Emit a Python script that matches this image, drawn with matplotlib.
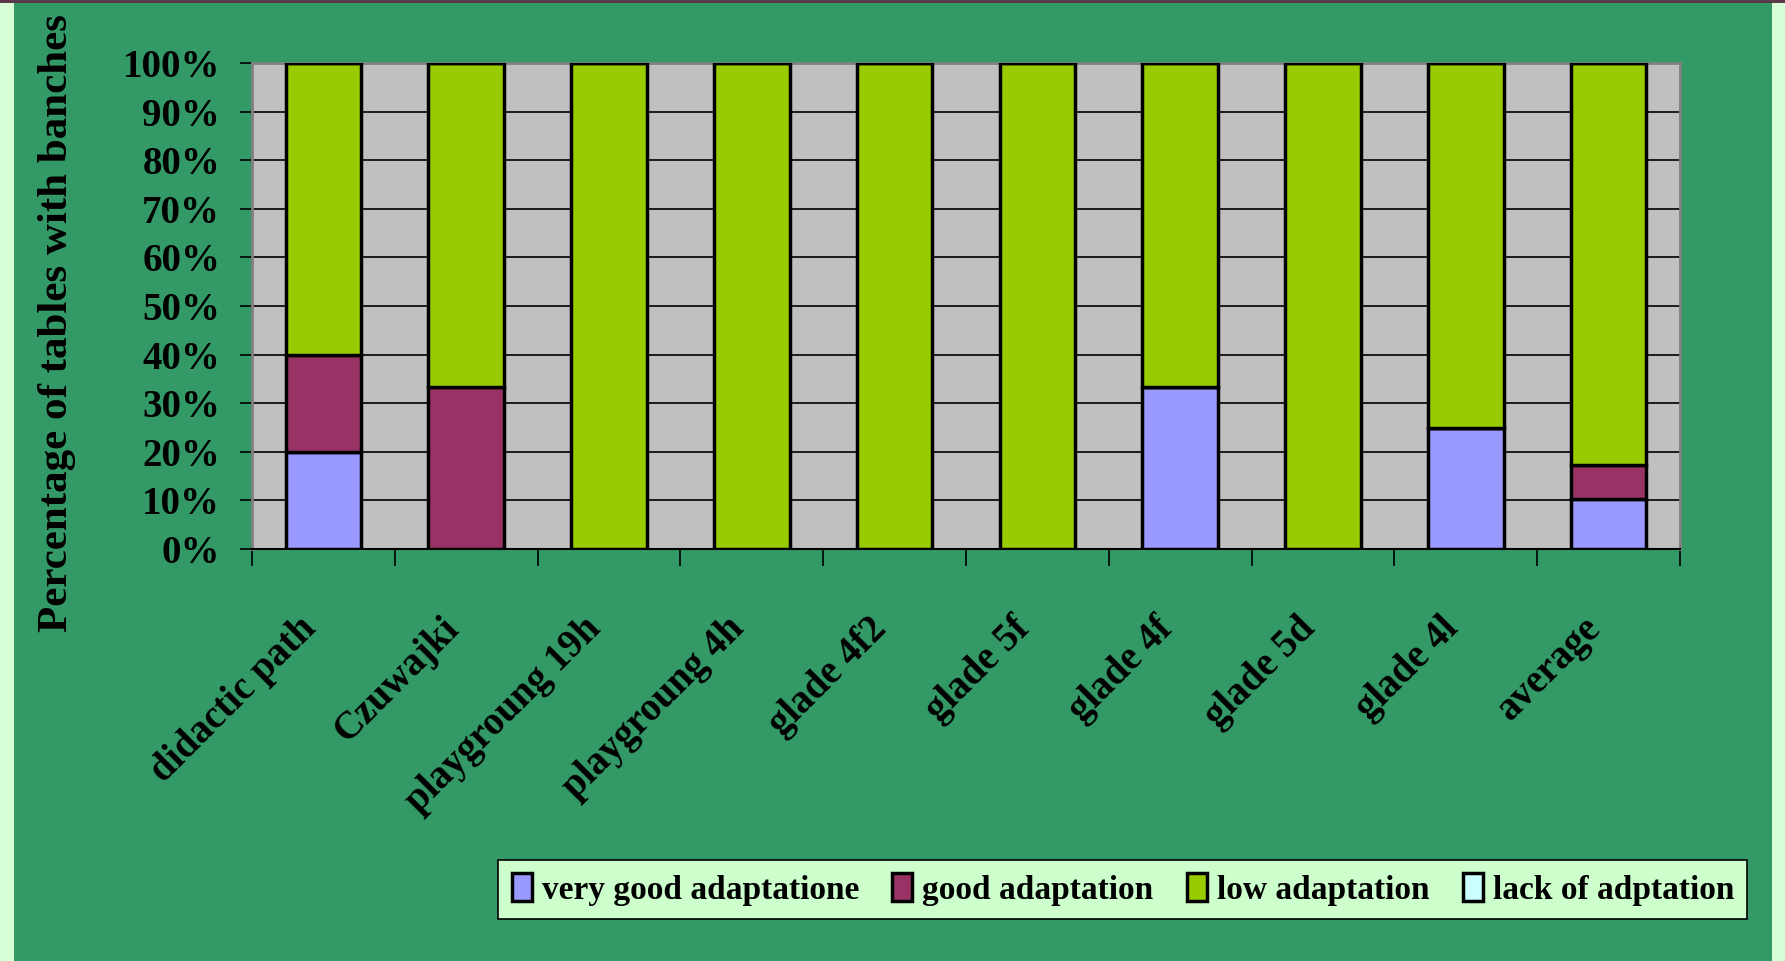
import matplotlib.pyplot as plt
from matplotlib.patches import Rectangle
import numpy as np

# dane (procenty)
kategorie = ['didactic path', 'Czuwajki', 'playgroung 19h', 'playgroung 4h',
             'glade 4f2', 'glade 5f', 'glade 4f', 'glade 5d', 'glade 4l', 'average']
very_good = [20, 0, 0, 0, 0, 0, 33.3, 0, 25, 10.3]
good = [20, 33.3, 0, 0, 0, 0, 0, 0, 0, 6.9]
low = [60, 66.7, 100, 100, 100, 100, 66.7, 100, 75, 82.8]
lack = [0, 0, 0, 0, 0, 0, 0, 0, 0, 0]

serie = ['very good adaptatione', 'good adaptation', 'low adaptation', 'lack of adptation']
kolory = ['#9999FF', '#993366', '#99CC00', '#CCFFFF']
yticks = [0, 10, 20, 30, 40, 50, 60, 70, 80, 90, 100]

plt.rcParams['font.family'] = ['Liberation Serif', 'DejaVu Serif']
plt.rcParams['font.weight'] = 'bold'

fig = plt.figure(figsize=(17.85, 9.61), dpi=100)
fig.patch.set_facecolor('#D6FFD6')
# zielone tlo
fig.patches.append(Rectangle((14 / 1785, 0), (1772 - 14) / 1785, 1 - 2 / 961,
                             transform=fig.transFigure, facecolor='#339966',
                             edgecolor='none', zorder=-10))
fig.patches.append(Rectangle((0, 1 - 3 / 961), 1, 3 / 961, transform=fig.transFigure,
                             facecolor='#5A3A4A', edgecolor='none', zorder=-10))

ax = fig.add_axes([252 / 1785, 1 - 549 / 961, (1680 - 252) / 1785, (549 - 63) / 961])
ax.set_facecolor('#C0C0C0')

x = np.arange(len(kategorie))
dol = np.zeros(len(kategorie))
for wart, kol, nazwa in zip([very_good, good, low, lack], kolory, serie):
    ax.bar(x, wart, 0.53, bottom=dol, color=kol, edgecolor='black',
           linewidth=2.5, label=nazwa, zorder=3)
    dol += np.array(wart)

ax.set_xlim(-0.5, len(kategorie) - 0.5)
ax.set_ylim(0, 100)
ax.set_yticks(yticks)
ax.set_yticklabels([f'{t}%' for t in yticks], fontsize=28, fontweight='bold')
ax.yaxis.grid(True, color='black', linewidth=1.2, zorder=1)
ax.set_axisbelow(True)

ax.set_xticks(np.arange(len(kategorie) + 1) - 0.5)
ax.set_xticklabels([])
ax.set_xticks(x, minor=True)
ax.set_xticklabels(kategorie, minor=True, rotation=45, ha='right', va='top',
                   fontsize=28, fontweight='bold')
ax.tick_params(axis='x', which='major', length=12, width=1.2, color='black', direction='out')
ax.tick_params(axis='x', which='minor', length=0, pad=44)
ax.tick_params(axis='y', length=9, width=1.2, color='black', pad=14)

for s in ['top', 'right', 'left']:
    ax.spines[s].set_color('#808080')
    ax.spines[s].set_linewidth(2)
ax.spines['bottom'].set_color('black')
ax.spines['bottom'].set_linewidth(1.5)

fig.text(57 / 1785, 1 - 632 / 961, 'Percentage of tables with banches', rotation=90,
         ha='center', va='bottom', fontsize=31, fontweight='bold')

leg = fig.legend(loc='center', bbox_to_anchor=(0.629, 1 - 889.5 / 961), ncol=4,
                 prop={'size': 24, 'weight': 'bold'}, frameon=True, fancybox=False,
                 handlelength=0.6, handleheight=0.9, handletextpad=0.3,
                 columnspacing=1.0, borderpad=0.4)
leg.get_frame().set_facecolor('#CCFFCC')
leg.get_frame().set_edgecolor('black')
leg.get_frame().set_linewidth(1.2)
leg.get_frame().set_alpha(1)

fig.savefig('out.png', dpi=100, facecolor=fig.get_facecolor())
